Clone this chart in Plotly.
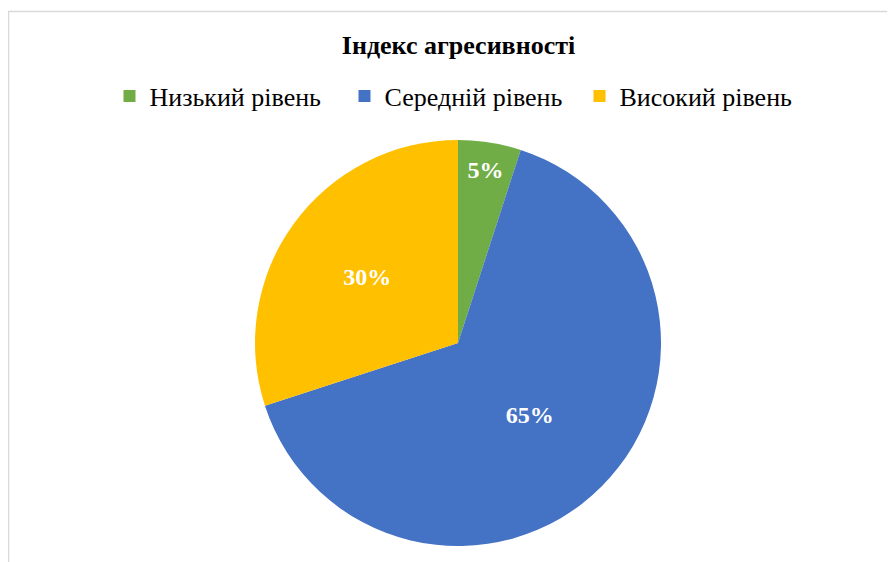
import plotly.graph_objects as go

labels = ["Низький рівень", "Середній рівень", "Високий рівень"]
values = [5, 65, 30]
colors = ["#70AD47", "#4472C4", "#FFC000"]
title = "Індекс агресивності"

W, H = 895, 562
font = "Liberation Serif, Times New Roman, serif"

fig = go.Figure(go.Pie(
    labels=labels, values=values, sort=False, direction="clockwise", rotation=0,
    marker=dict(colors=colors, line=dict(color="white", width=0)),
    texttemplate="%{percent:.0%}", textposition="inside", insidetextorientation="horizontal",
    textfont=dict(family=font, size=24, color="white", weight="bold"),
    domain=dict(x=[247 / W, 653 / W], y=[1 - 538 / H, 1 - 132 / H]),
    hoverinfo="label+percent",
))

fig.update_layout(
    width=W, height=H,
    margin=dict(l=0, r=0, t=0, b=0),
    paper_bgcolor="white",
    title=dict(text="<b>" + title + "</b>", x=450.5 / W, xanchor="center", y=1 - 37 / H, yanchor="middle",
               font=dict(family=font, size=26, color="black")),
    legend=dict(orientation="h", x=454 / W, xanchor="center", y=1 - 88 / H, yanchor="middle",
                font=dict(family=font, size=26, color="black"), traceorder="normal",
                entrywidth=190, entrywidthmode="pixels"),
    shapes=[dict(type="rect", xref="paper", yref="paper", x0=0.5 / W, y0=-0.05, x1=1.05, y1=1 - 3.5 / H,
                 line=dict(color="#d9d9d9", width=1.5))],
)

fig.write_html("out.html")
